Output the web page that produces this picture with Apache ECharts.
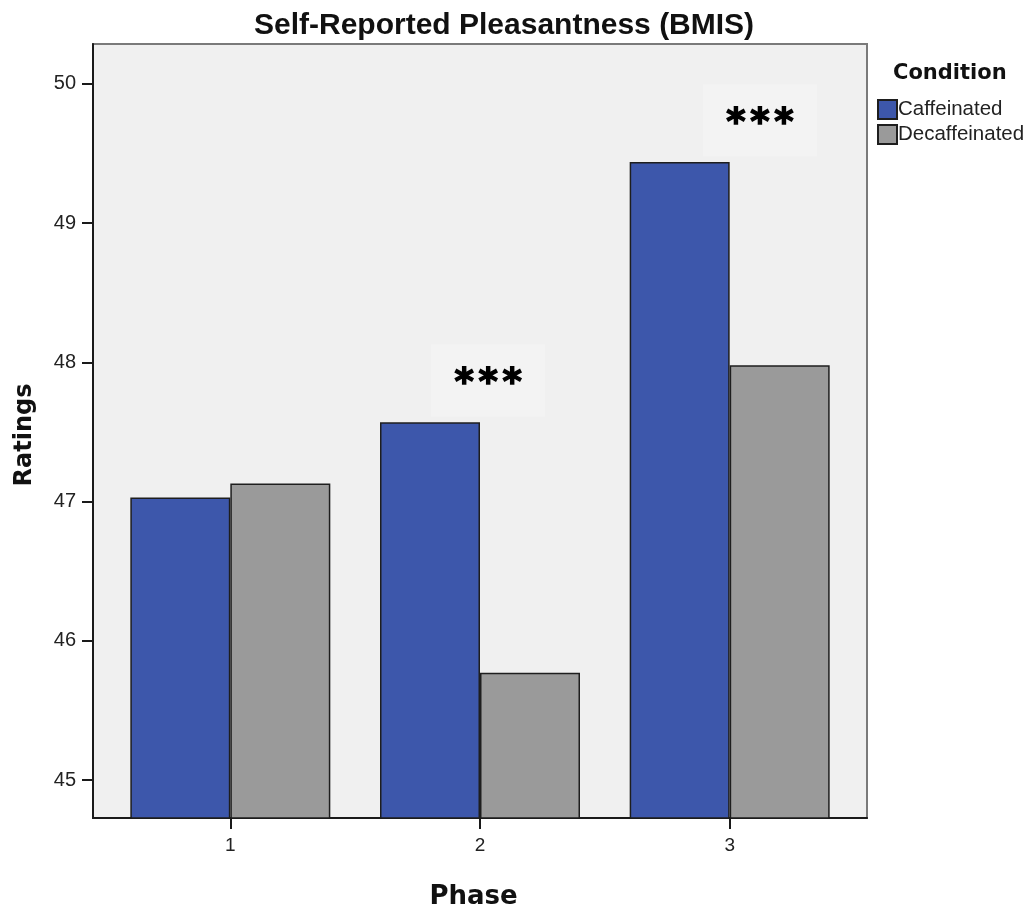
<!DOCTYPE html>
<html>
<head>
<meta charset="utf-8">
<script src="https://cdn.jsdelivr.net/npm/echarts@6/dist/echarts.min.js"></script>
<style>
html,body{margin:0;padding:0;background:#fff;}
#chart{width:1030px;height:915px;}
</style>
</head>
<body>
<div id="chart"></div>
<script>
var phases = [1, 2, 3];
var tickLabelsY = [45, 46, 47, 48, 49, 50];
var caffeinated = [47.03, 47.57, 49.44];
var decaffeinated = [47.13, 45.77, 47.98];
var annotX = [2.033, 3.121];
var annotY = [47.87, 49.74];
var annotText = ['***', '***'];

var chart = echarts.init(document.getElementById('chart'));
var barBorder = { borderColor: '#1e1e1e', borderWidth: 1.5 };

chart.setOption({
  animation: false,
  backgroundColor: '#ffffff',
  title: [
    {
      text: 'Self-Reported Pleasantness (BMIS)',
      left: 249, top: 6,
      textStyle: { fontFamily: 'Liberation Sans', fontWeight: 'bold', fontSize: 30, color: '#111' }
    },
    {
      text: 'Condition',
      left: 888, top: 58,
      textStyle: { fontFamily: 'DejaVu Sans', fontWeight: 'bold', fontSize: 21, color: '#111' }
    }
  ],
  legend: {
    data: ['Caffeinated', 'Decaffeinated'],
    orient: 'vertical',
    left: 872, top: 94,
    itemWidth: 19, itemHeight: 19, itemGap: 4,
    icon: 'rect',
    textStyle: { fontFamily: 'Liberation Sans', fontSize: 20.5, color: '#222', padding: [0, 0, 0, -4] }
  },
  grid: {
    left: 93, right: 163, top: 44, bottom: 96,
    show: true, backgroundColor: '#f0f0f0', borderColor: '#7a7a7a', borderWidth: 2
  },
  xAxis: {
    type: 'value', min: 0.45, max: 3.55,
    name: 'Phase', nameLocation: 'middle', nameGap: 66,
    nameTextStyle: { fontFamily: 'DejaVu Sans', fontWeight: 'bold', fontSize: 26, color: '#111', padding: [0, 13, 0, 0] },
    axisLine: { show: true, onZero: false, lineStyle: { color: '#1a1a1a', width: 2 } },
    axisTick: { show: true, customValues: phases, length: 11, lineStyle: { color: '#1a1a1a', width: 2 } },
    axisLabel: { customValues: phases, margin: 18, fontFamily: 'Liberation Sans', fontSize: 19, color: '#222' },
    splitLine: { show: false }
  },
  yAxis: {
    type: 'value', min: 44.727, max: 50.287,
    name: 'Ratings', nameLocation: 'middle', nameGap: 56,
    nameTextStyle: { fontFamily: 'DejaVu Sans', fontWeight: 'bold', fontSize: 24, color: '#111', padding: [0, 8, 0, 0] },
    axisLine: { show: true, lineStyle: { color: '#1a1a1a', width: 2 } },
    axisTick: { show: true, customValues: tickLabelsY, length: 11, lineStyle: { color: '#1a1a1a', width: 2 } },
    axisLabel: { customValues: tickLabelsY, margin: 17, fontFamily: 'Liberation Sans', fontSize: 20, color: '#222' },
    splitLine: { show: false }
  },
  series: [
    {
      name: 'Caffeinated', type: 'bar', barWidth: 100, barGap: '0%',
      itemStyle: Object.assign({ color: '#3d57ab' }, barBorder),
      data: phases.map(function (p, i) { return [p, caffeinated[i]]; })
    },
    {
      name: 'Decaffeinated', type: 'bar', barWidth: 100, barGap: '0%',
      itemStyle: Object.assign({ color: '#9a9a9a' }, barBorder),
      data: phases.map(function (p, i) { return [p, decaffeinated[i]]; })
    },
    {
      name: 'annot', type: 'scatter', symbol: 'rect', symbolSize: [114, 72],
      itemStyle: { color: '#f3f3f3', opacity: 1 },
      silent: true, z: 5,
      label: {
        show: true, position: 'inside', offset: [0, 4],
        formatter: function (p) {
          return annotText[p.dataIndex].split('').map(function (c) { return '{s|' + c + '}'; }).join('');
        },
        rich: {
          s: {
            width: 24, align: 'center', fontFamily: 'DejaVu Sans', fontWeight: 'bold', fontSize: 37,
            color: '#000', textBorderColor: '#000', textBorderWidth: 1.4
          }
        }
      },
      data: annotX.map(function (x, i) { return [x, annotY[i]]; })
    }
  ]
});
</script>
</body>
</html>
